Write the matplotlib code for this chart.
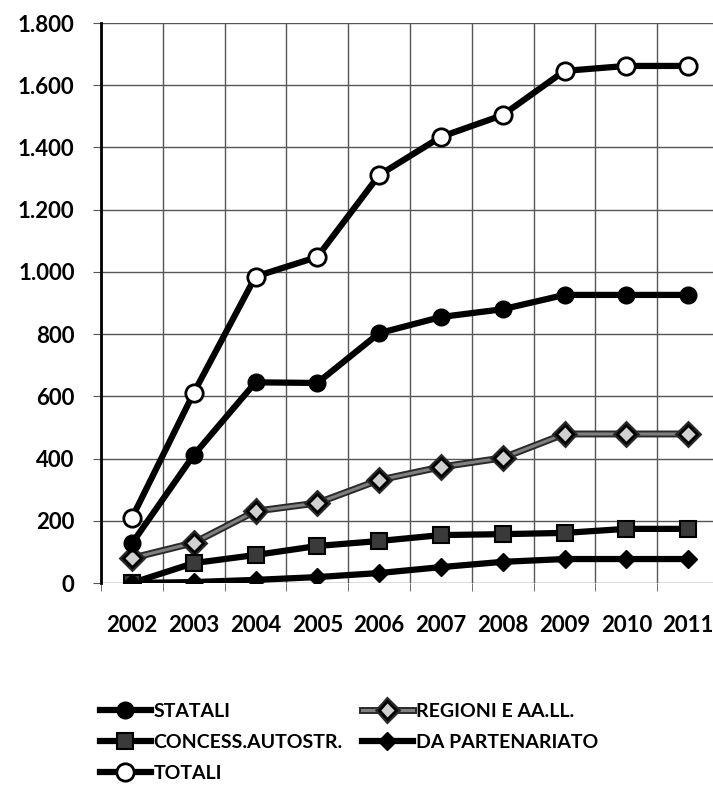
import matplotlib
matplotlib.use("Agg")
import matplotlib.pyplot as plt
import matplotlib.patheffects as pe
from matplotlib.ticker import FuncFormatter, FixedLocator

plt.rcParams['font.family'] = ['Lato', 'DejaVu Sans']

anni = ['2002', '2003', '2004', '2005', '2006', '2007', '2008', '2009', '2010', '2011']
statali = [127, 411, 645, 643, 803, 855, 880, 926, 926, 926]
regioni = [80, 129, 231, 257, 331, 373, 402, 479, 479, 479]
concess = [0, 64, 90, 119, 135, 154, 157, 161, 174, 174]
partenariato = [0, 3, 10, 19, 32, 51, 68, 77, 77, 77]
totali = [209, 611, 985, 1048, 1311, 1434, 1504, 1646, 1662, 1662]

fig = plt.figure(figsize=(7.13, 7.86), dpi=100)
ax = fig.add_axes([101 / 713, 203 / 786, 618 / 713, 560 / 786])

x = list(range(len(anni)))

l_stat, = ax.plot(x, statali, color='black', lw=4.5, marker='o', ms=12,
                  mfc='black', mec='black', label='STATALI', zorder=5)
l_reg, = ax.plot(x, regioni, color='#808080', lw=2.2, marker='D', ms=9,
                 mfc='#d0d0d0', mec='black', mew=2, label='REGIONI E AA.LL.', zorder=4,
                 path_effects=[pe.Stroke(linewidth=5, foreground='#2a2a2a'), pe.Normal()])
l_conc, = ax.plot(x, concess, color='black', lw=4.5, marker='s', ms=12,
                  mfc='#3a3a3a', mec='black', mew=1.5, label='CONCESS.AUTOSTR.', zorder=4)
l_part, = ax.plot(x, partenariato, color='black', lw=4.5, marker='D', ms=9,
                  mfc='black', mec='black', label='DA PARTENARIATO', zorder=4)
l_tot, = ax.plot(x, totali, color='black', lw=4.5, marker='o', ms=12.5,
                 mfc='white', mec='black', mew=2, label='TOTALI', zorder=6)

ax.set_xlim(-0.5, 9.5)
ax.set_ylim(0, 1800)
ax.set_yticks(range(0, 1801, 200))
ax.yaxis.set_major_formatter(FuncFormatter(lambda v, p: f"{v:,.0f}".replace(",", ".")))
ax.set_xticks(x)
ax.set_xticklabels(anni)
ax.xaxis.set_minor_locator(FixedLocator([i - 0.5 for i in range(11)]))
ax.tick_params(axis='x', which='major', length=0, pad=23, labelsize=16)
ax.tick_params(axis='x', which='minor', length=6, color='#555555')
ax.tick_params(axis='y', length=6, color='#555555', pad=13, labelsize=16)
for lab in ax.get_xticklabels() + ax.get_yticklabels():
    lab.set_fontweight('bold')

ax.grid(True, axis='y', color='#555555', lw=1)
ax.grid(True, axis='x', which='minor', color='#555555', lw=1)
ax.set_axisbelow(True)
for s in ['top', 'right', 'bottom']:
    ax.spines[s].set_visible(False)
ax.spines['left'].set_linewidth(2)
ax.spines['left'].set_zorder(3)

fig.legend([l_stat, l_conc, l_tot, l_reg, l_part],
           ['STATALI', 'CONCESS.AUTOSTR.', 'TOTALI', 'REGIONI E AA.LL.', 'DA PARTENARIATO'],
           ncol=2, loc='upper left', bbox_to_anchor=(100 / 713, 1 - 703 / 786),
           frameon=False, borderpad=0, borderaxespad=0, handlelength=2.6,
           handletextpad=0.15, columnspacing=1.0, labelspacing=0.72,
           prop={'size': 14, 'weight': 'bold'})

fig.savefig('out.png', dpi=100)
